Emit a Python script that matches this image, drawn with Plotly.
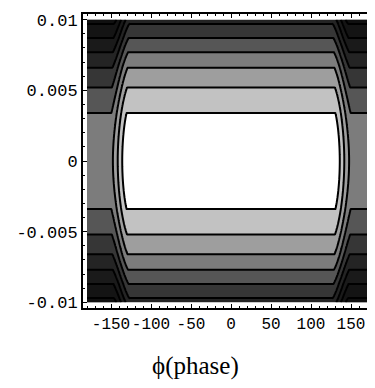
import numpy as np
import plotly.graph_objects as go

# ---- values ----
# |y| of the contour lines along phi = 0 (inner, flat region)
line_y = [0.0034, 0.0052, 0.0066, 0.0077, 0.0087, 0.0097]
# |phi| (deg) where the steep step starts / ends (at the top and bottom edges)
step_phi = [127, 146]
# extra outward shift (deg) of the step at y = 0 (barrel shape)
bulge_deg = 4
# the outer region (|phi| > ~150) is offset by this many bands
outer_shift = 3
# grey shade of each band, lightest (centre) to darkest
band_colors = ["#ffffff", "#c2c2c2", "#9e9e9e", "#7c7c7c", "#565656",
               "#363636", "#242424", "#1a1a1a", "#141414", "#101010"]
x_ticks = [-150, -100, -50, 0, 50, 100, 150]
x_ticktext = ["-150", "-100", "-50", "0", "50", "100", "150"]
y_ticks = [-0.01, -0.005, 0, 0.005, 0.01]
y_ticktext = ["-0.01", "-0.005", "0", "0.005", "0.01"]
x_title = "\u03d5(phase)"

# ---- build the level field from the read values ----
phi = np.linspace(-180, 180, 721)
y = np.linspace(-0.01, 0.01, 401)
sq = np.array(line_y) ** 2
sp = (sq[-1] - sq[0]) / (len(sq) - 1)
xp = np.concatenate([[0.0], sq, [sq[-1] + 6 * sp]])
fp = np.concatenate([[1 - sq[0] / sp], np.arange(1, len(sq) + 1), [len(sq) + 6]])
g = np.interp(y ** 2, xp, fp)

P, Y = np.meshgrid(phi, y)
edge0 = step_phi[0] + bulge_deg * (1 - (Y / 0.01) ** 2)
t = np.clip((np.abs(P) - edge0) / (step_phi[1] - step_phi[0]), 0, 1)
H = outer_shift * (0.7 * t + 0.3 * t * t * (3 - 2 * t))
Z = g[:, None] + H

n = len(band_colors) - 1
colorscale = [[k / n, c] for k, c in enumerate(band_colors)]

fig = go.Figure(go.Contour(
    x=phi, y=y, z=Z,
    contours=dict(start=1, end=9, size=1, coloring="fill"),
    colorscale=colorscale,
    line=dict(color="black", width=2),
    showscale=False,
    hoverinfo="skip",
))

fig.update_layout(
    width=375, height=388,
    margin=dict(l=75, r=2, t=6, b=88),
    paper_bgcolor="white", plot_bgcolor="white",
    showlegend=False,
    xaxis=dict(range=[-185, 185], tickvals=x_ticks, ticktext=x_ticktext,
               tickangle=0,
               showgrid=False, zeroline=False, showline=True, linecolor="black",
               linewidth=2, mirror="allticks", ticks="inside", ticklen=4,
               tickcolor="black",
               tickfont=dict(family="Liberation Mono", size=16, color="black"),
               minor=dict(tickvals=list(range(-180, 181, 10)), ticks="inside",
                          ticklen=2, tickcolor="black")),
    yaxis=dict(range=[-0.0104, 0.0104], tickvals=y_ticks, ticktext=y_ticktext,
               showgrid=False, zeroline=False, showline=True, linecolor="black",
               linewidth=2, mirror="allticks", ticks="inside", ticklen=4,
               tickcolor="black",
               tickfont=dict(family="Liberation Mono", size=17, color="black"),
               minor=dict(tickvals=[round(v * 0.001, 3) for v in range(-10, 11)],
                          ticks="inside", ticklen=2, tickcolor="black")),
    annotations=[dict(text=x_title, xref="paper", yref="paper", x=0.38, y=-0.197,
                      xanchor="center", yanchor="middle", showarrow=False,
                      font=dict(family="Liberation Serif", size=25, color="black"))],
)

fig.write_html("out.html")
